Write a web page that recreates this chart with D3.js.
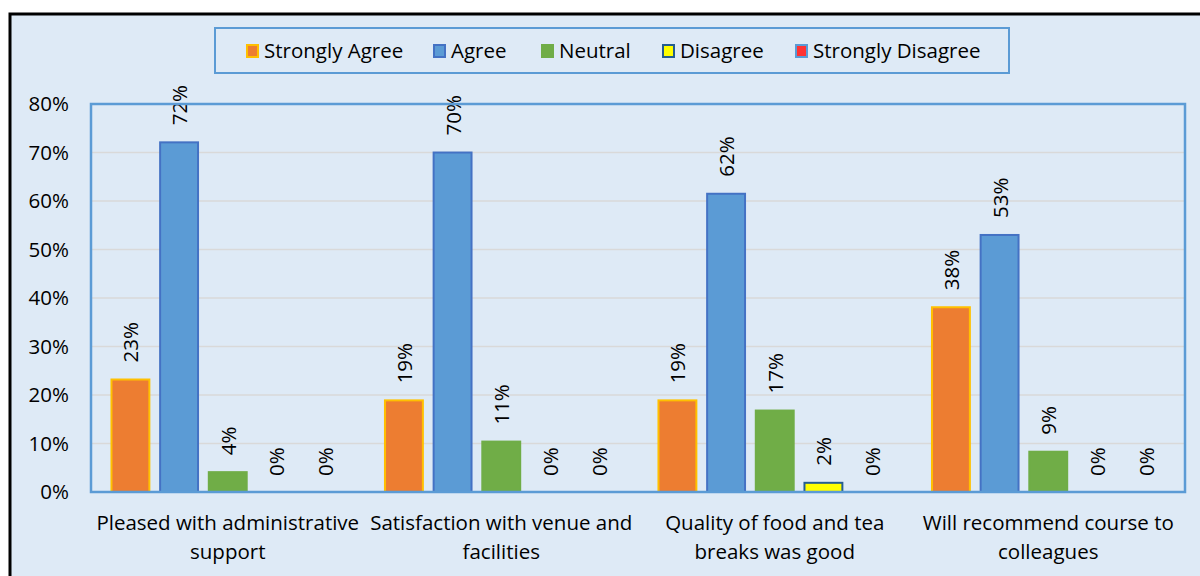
<!DOCTYPE html>
<html><head><meta charset="utf-8">
<script src="https://cdn.jsdelivr.net/npm/d3@7"></script>
<style>
html,body{margin:0;padding:0;background:#fff;}
svg{display:block;font-family:"Open Sans",Lato,sans-serif;}
</style></head>
<body>
<svg id="c" width="1200" height="576"></svg>
<script>
const categories = [
  ["Pleased with administrative","support"],
  ["Satisfaction with venue and","facilities"],
  ["Quality of food and tea","breaks was good"],
  ["Will recommend course to","colleagues"]
];
const seriesNames = ["Strongly Agree","Agree","Neutral","Disagree","Strongly Disagree"];
const stronglyAgree = [0.234, 0.191, 0.191, 0.383];
const agree = [0.723, 0.702, 0.617, 0.532];
const neutral = [0.043, 0.106, 0.170, 0.0851];
const disagree = [0, 0, 0.021, 0];
const stronglyDisagree = [0, 0, 0, 0];
const yTicks = [0,0.1,0.2,0.3,0.4,0.5,0.6,0.7,0.8];

const seriesValues = [stronglyAgree, agree, neutral, disagree, stronglyDisagree];
const fills = ["#ED7D31","#5B9BD5","#70AD47","#FFFF00","#FF3333"];
const strokes = ["#FFC000","#4472C4","#70AD47","#255E91","#5B9BD5"];
const FS = 20.5;

const svg = d3.select("#c");
svg.append("rect").attr("x",10).attr("y",14).attr("width",1200).attr("height",600)
  .attr("fill","#DEEAF6").attr("stroke","#000").attr("stroke-width",3);

const pL=91, pR=1185, pT=104, pB=492;
const x0 = d3.scaleBand().domain(d3.range(categories.length)).range([pL,pR]).padding(0);
const x1 = d3.scaleBand().domain(d3.range(seriesNames.length)).range([0,x0.bandwidth()])
  .paddingInner(0.18).paddingOuter(0.4);
const y = d3.scaleLinear().domain([0,0.8]).range([pB,pT]);

svg.append("g").selectAll("line").data(yTicks.slice(1)).join("line")
  .attr("x1",pL).attr("x2",pR).attr("y1",d=>y(d)).attr("y2",d=>y(d))
  .attr("stroke","#D9D9D9").attr("stroke-width",1.5);

const yAxis = d3.axisLeft(y).tickValues(yTicks).tickFormat(d3.format(".0%")).tickSize(0).tickPadding(22);
const ya = svg.append("g").attr("transform",`translate(${pL},0)`).call(yAxis);
ya.select(".domain").remove();
ya.selectAll("text").attr("font-size",FS).attr("fill","#000").attr("font-family","'Open Sans',Lato,sans-serif");

const groups = svg.append("g").selectAll("g").data(categories).join("g")
  .attr("transform",(d,i)=>`translate(${x0(i)},0)`);
groups.each(function(cat,ci){
  const g = d3.select(this);
  seriesValues.forEach((vals,si)=>{
    const v = vals[ci];
    const bx = x1(si), bw = x1.bandwidth();
    if (v>0){
      g.append("rect").attr("x",bx+1).attr("y",y(v)+1).attr("width",bw-2).attr("height",y(0)-y(v)-1)
        .attr("fill",fills[si]).attr("stroke",strokes[si]).attr("stroke-width",2);
    }
    const lx = bx+bw/2, ly = y(v)-16;
    g.append("text").attr("transform",`translate(${lx},${ly}) rotate(-90)`)
      .attr("text-anchor","start").attr("dominant-baseline","central")
      .attr("font-size",FS).attr("fill","#000").text(d3.format(".0%")(v));
  });
});

svg.append("rect").attr("x",pL).attr("y",pT).attr("width",pR-pL).attr("height",pB-pT)
  .attr("fill","none").attr("stroke","#5B9BD5").attr("stroke-width",2.5);

const xl = svg.append("g");
categories.forEach((lines,ci)=>{
  const t = xl.append("text").attr("x",x0(ci)+x0.bandwidth()/2).attr("text-anchor","middle")
    .attr("font-size",FS).attr("fill","#000");
  lines.forEach((ln,li)=>{
    t.append("tspan").attr("x",x0(ci)+x0.bandwidth()/2).attr("y",530+li*29).text(ln);
  });
});

svg.append("rect").attr("x",215).attr("y",28).attr("width",794).attr("height",45)
  .attr("fill","none").attr("stroke","#5B9BD5").attr("stroke-width",2);
const legendX = [246,433,541,662,795];
const lg = svg.append("g");
seriesNames.forEach((n,i)=>{
  lg.append("rect").attr("x",legendX[i]+1).attr("y",45).attr("width",11).attr("height",12)
    .attr("fill",fills[i]).attr("stroke",strokes[i]).attr("stroke-width",2);
  lg.append("text").attr("x",legendX[i]+18).attr("y",58).attr("font-size",FS).attr("fill","#000").text(n);
});
</script>
</body></html>
